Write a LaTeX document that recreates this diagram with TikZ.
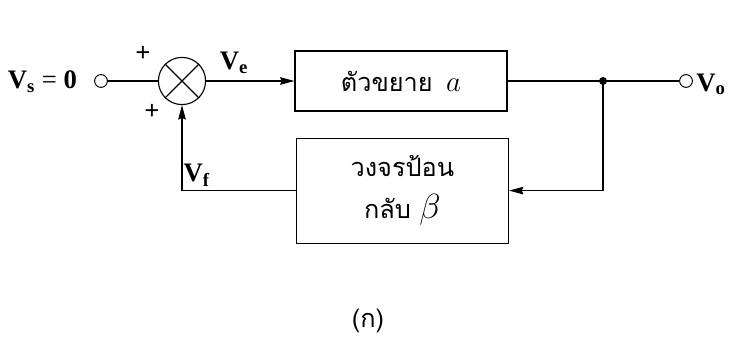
\documentclass[tikz,border=0pt]{standalone}
\usepackage{fontspec}
\setmainfont{Liberation Serif}
\newfontfamily\thaifont[Script=Thai]{Loma}
\usepackage{tikz}
\usetikzlibrary{arrows.meta,positioning}

\begin{document}
\begin{tikzpicture}[every node/.style={font=\fontsize{19}{22}\selectfont},
  blk/.style={draw, line width=0.8pt, minimum width=5.3cm, align=center, inner sep=0pt},
  port/.style={draw, circle, line width=0.7pt, minimum size=0.32cm, inner sep=0pt},
  sumc/.style={draw, circle, line width=0.8pt, minimum size=1.18cm, inner sep=0pt},
  thai/.style={font=\thaifont\fontsize{18}{30}\selectfont},
  wire/.style={line width=0.8pt},
  arr/.style={line width=0.8pt, -{Stealth[length=3.6mm, width=1.9mm, inset=0.4mm]}}]
\useasboundingbox (0,0) rectangle (18.225,8.525);
% Forward path
\node[anchor=east, inner sep=0pt] (vslab) at (1.93,6.48) {\textbf{V}$_{\mathbf{s}}$ = \textbf{0}};
\node[port] (vs) at (2.525,6.5) {};
\node[sumc] (sum) at (4.55,6.5) {};
\draw[wire] (sum.north west) -- (sum.south east);
\draw[wire] (sum.north east) -- (sum.south west);
\node[blk, minimum height=1.5cm] (amp) at (10.025,6.5) {{\thaifont\fontsize{18}{20}\selectfont ตัวขยาย}\ \ {\fontsize{22}{22}\selectfont$a$}};
\fill (15.075,6.5) circle (0.1) coordinate (dot);
\node[port] (vo) at (17.15,6.5) {};
\node[anchor=west, inner sep=0pt] (volab) at (17.4,6.42) {\textbf{V}$_{\mathbf{o}}$};
% Feedback path
\node[blk, minimum height=2.625cm, thai] (fb) at (10.06,3.76) {วงจรป้อน\\กลับ {\fontsize{26}{26}\selectfont$\beta$}};
% Labels
\node (p1) at (3.575,7.17) {\textbf{+}};
\node (p2) at (3.8,5.72) {\textbf{+}};
\node (ve) at (5.85,6.95) {\textbf{V}$_{\mathbf{e}}$};
\node (vf) at (4.92,4.15) {\textbf{V}$_{\mathbf{f}}$};
\node[font=\thaifont\fontsize{18}{20}\selectfont] (cap) at (9.2,0.5) {(ก)};
% Connections
\draw[wire] (vs) -- (sum);
\draw[arr] (sum) -- (amp);
\draw[wire] (amp) -- (dot) -- (vo);
\draw[arr] (dot) |- (fb.east);
\draw[arr] (fb.west) -| (sum.south);
\end{tikzpicture}
\end{document}
